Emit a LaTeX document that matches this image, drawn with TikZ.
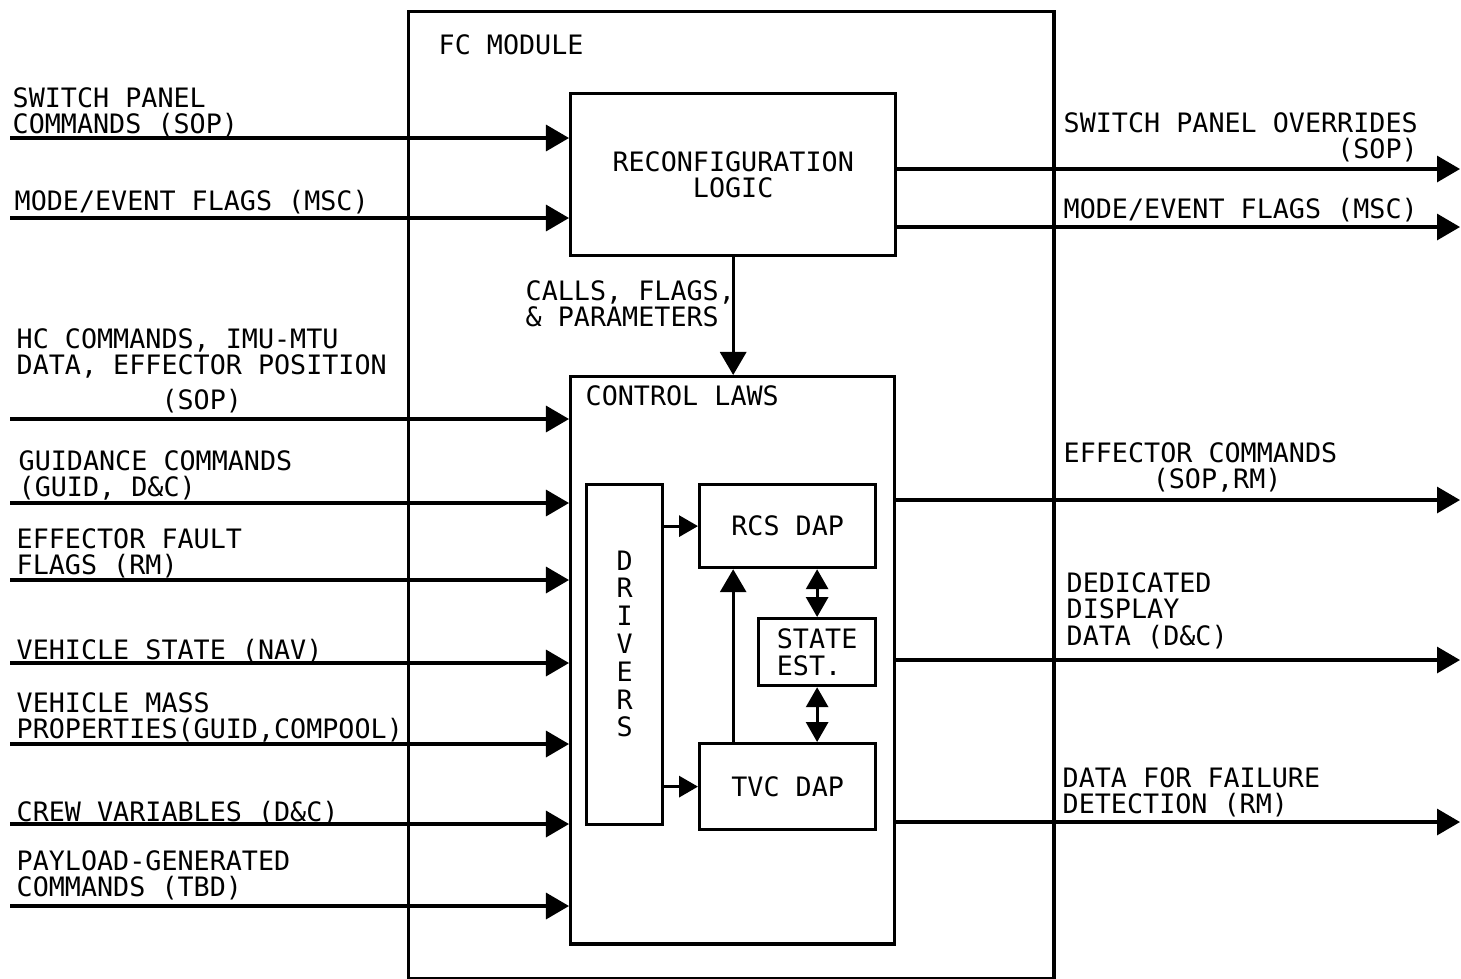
\documentclass[tikz,border=0pt]{standalone}
\usepackage{fontspec}
\setmonofont{DejaVu Sans Mono}
\usepackage{tikz}
\usetikzlibrary{arrows.meta}

\begin{document}
\begin{tikzpicture}[x=0.01cm,y=-0.01cm,
  box/.style={draw,line width=0.9pt,inner sep=0pt,anchor=north west,
    font=\ttfamily\fontsize{7.6}{7.5}\selectfont},
  lbl/.style={inner sep=0pt,anchor=north west,align=left,
    font=\ttfamily\fontsize{7.6}{7.5}\selectfont},
  flow/.style={line width=0.9pt,-{Triangle[length=2.3mm,width=2.6mm]}},
  small/.style={line width=0.9pt,-{Triangle[length=1.9mm,width=2.1mm]}},
  both/.style={line width=0.9pt,{Triangle[length=2mm,width=2.2mm]}-{Triangle[length=2mm,width=2.2mm]}}]
\useasboundingbox (0,0) rectangle (1461,978);

% boxes
\node[box,minimum width=6.45cm,minimum height=9.66cm] (fc) at (407,10) {};
\node[lbl] (fctxt) at (438,34) {FC MODULE};
\node[box,minimum width=3.25cm,minimum height=1.62cm,align=center] (rl) at (569,92) {RECONFIGURATION\\LOGIC};
\node[box,minimum width=3.24cm,minimum height=5.67cm] (cl) at (569,375) {};
\node[lbl] (cltxt) at (585,385) {CONTROL LAWS};
\node[box,minimum width=0.76cm,minimum height=3.40cm,align=center,
  font=\ttfamily\fontsize{7.6}{7.9}\selectfont] (drv) at (585,483) {D\\R\\I\\V\\E\\R\\S\\[-0.06cm]};
\node[box,minimum width=1.76cm,minimum height=0.83cm] (rcs) at (698,483) {RCS DAP};
\node[box,minimum width=1.76cm,minimum height=0.86cm] (tvc) at (698,742) {TVC DAP};
\node[box,minimum width=1.17cm,minimum height=0.67cm,align=left] (est) at (757,617) {STATE\\EST.};

% inputs
\node[lbl] (lsw) at (12,87) {SWITCH PANEL\\COMMANDS (SOP)};
\node[lbl] (lmode) at (14,190) {MODE/EVENT FLAGS (MSC)};
\node[lbl] (lhc) at (16,328) {HC COMMANDS, IMU-MTU\\DATA, EFFECTOR POSITION\\[2.3pt]\phantom{DATA, EFF}(SOP)};
\node[lbl] (lgd) at (18,450) {GUIDANCE COMMANDS\\(GUID, D\&C)};
\node[lbl] (lef) at (16,528) {EFFECTOR FAULT\\FLAGS (RM)};
\node[lbl] (lvs) at (16,638) {VEHICLE STATE (NAV)};
\node[lbl] (lvm) at (16,692) {VEHICLE MASS\\PROPERTIES(GUID,COMPOOL)};
\node[lbl] (lcv) at (16,800) {CREW VARIABLES (D\&C)};
\node[lbl] (lpl) at (16,850) {PAYLOAD-GENERATED\\COMMANDS (TBD)};

\coordinate (isw) at (10,138);
\coordinate (imode) at (10,218);
\coordinate (ihc) at (10,419);
\coordinate (igd) at (10,503);
\coordinate (ief) at (10,580);
\coordinate (ivs) at (10,663);
\coordinate (ivm) at (10,744);
\coordinate (icv) at (10,824);
\coordinate (ipl) at (10,906);
\draw[flow] (isw) -- (isw -| rl.west);
\draw[flow] (imode) -- (imode -| rl.west);
\draw[flow] (ihc) -- (ihc -| cl.west);
\draw[flow] (igd) -- (igd -| cl.west);
\draw[flow] (ief) -- (ief -| cl.west);
\draw[flow] (ivs) -- (ivs -| cl.west);
\draw[flow] (ivm) -- (ivm -| cl.west);
\draw[flow] (icv) -- (icv -| cl.west);
\draw[flow] (ipl) -- (ipl -| cl.west);

% outputs
\node[lbl,align=right] (rsw) at (1063,112) {SWITCH PANEL OVERRIDES\\(SOP)};
\node[lbl] (rmode) at (1063,198) {MODE/EVENT FLAGS (MSC)};
\node[lbl] (rec) at (1063,442) {EFFECTOR COMMANDS\\\hspace*{0.89cm}(SOP,RM)};
\node[lbl] (rdd) at (1066,572) {DEDICATED\\DISPLAY\\DATA (D\&C)};
\node[lbl] (rdf) at (1062,767) {DATA FOR FAILURE\\DETECTION (RM)};

\coordinate (osw) at (1460,169);
\coordinate (omode) at (1460,227);
\coordinate (oec) at (1460,500);
\coordinate (odd) at (1460,660);
\coordinate (odf) at (1460,822);
\draw[flow] (osw -| rl.east) -- (osw);
\draw[flow] (omode -| rl.east) -- (omode);
\draw[flow] (oec -| cl.east) -- (oec);
\draw[flow] (odd -| cl.east) -- (odd);
\draw[flow] (odf -| cl.east) -- (odf);

% inside the module
\node[lbl] (calls) at (525,280) {CALLS, FLAGS,\\\& PARAMETERS};
\draw[flow] (rl.south) -- (rl.south |- cl.north);
\draw[small] (drv.east |- rcs.west) -- (rcs.west);
\draw[small] (drv.east |- tvc.west) -- (tvc.west);
\draw[flow] (rl.south |- tvc.north) -- (rl.south |- rcs.south);
\draw[both] (est.north |- rcs.south) -- (est.north);
\draw[both] (est.south) -- (est.south |- tvc.north);
\end{tikzpicture}
\end{document}
